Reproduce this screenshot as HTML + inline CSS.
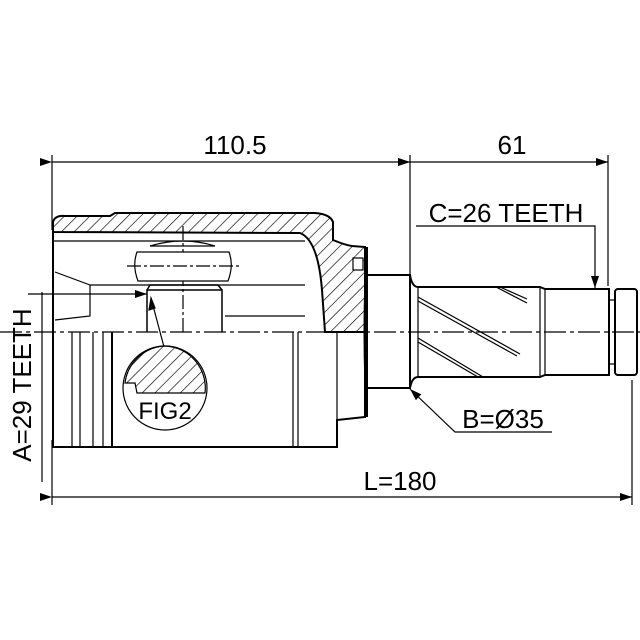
<!DOCTYPE html>
<html><head><style>body{margin:0;background:#fff}svg{display:block}</style></head><body>
<svg width="640" height="640" viewBox="0 0 640 640" xmlns="http://www.w3.org/2000/svg" font-family="Liberation Sans, sans-serif">
<defs>
<pattern id="h" width="9" height="9" patternUnits="userSpaceOnUse" patternTransform="rotate(45)">
<line x1="0" y1="0" x2="0" y2="9" stroke="#000" stroke-width="1.3"/></pattern>
<marker id="a" markerWidth="12" markerHeight="8" refX="12" refY="4" orient="auto" markerUnits="userSpaceOnUse"><path d="M0,0L12,4L0,8z" fill="#000"/></marker>
</defs>
<g stroke="#000" fill="none" stroke-width="1.2">
<line x1="52" y1="155" x2="52" y2="230"/>
<line x1="410" y1="155" x2="410" y2="275"/>
<line x1="608" y1="155" x2="608" y2="286"/>
<line x1="52" y1="162" x2="410" y2="162" marker-start="url(#a)" marker-end="url(#a)"/>
<line x1="410" y1="162" x2="608" y2="162" marker-start="url(#a)" marker-end="url(#a)"/>
<line x1="52" y1="440" x2="52" y2="505"/>
<line x1="632" y1="380" x2="632" y2="505"/>
<line x1="52" y1="497" x2="632" y2="497" marker-start="url(#a)" marker-end="url(#a)"/>
<line x1="42" y1="292" x2="42" y2="482"/>
<line x1="28" y1="294" x2="147" y2="294" marker-end="url(#a)"/>
<path d="M53,232 L53,222 Q55,215 65,216 L110,216 L115,213 L315,213 Q330,214 333,222 L333,240 Q345,245 352,246 L365,247 L365,332 L325,332 L322,290 Q318,240 300,233 Z" fill="url(#h)" stroke-width="2"/>
<path d="M53,232 L53,447 L337,447 L337,420 L365,417 L365,332" stroke-width="2"/>
<rect x="353" y="258" width="10" height="12" fill="#fff"/>
<line x1="53" y1="241" x2="305" y2="241"/>
<line x1="90" y1="285" x2="305" y2="285"/>
<line x1="225" y1="316" x2="305" y2="316"/>
<path d="M55,272 L90,285 L90,316 L55,320"/>
<line x1="183" y1="226" x2="183" y2="332" stroke-dasharray="14,3,3,3"/>
<path d="M137,252 Q132,265 138,281 L228,281 Q234,265 229,252 Z" fill="#fff"/>
<path d="M150,246 Q183,236 215,246 Z"/>
<line x1="127" y1="266" x2="240" y2="266" stroke-dasharray="14,3,3,3"/>
<path d="M147,332 L147,290 L222,290 L222,332" stroke-width="1.5"/>
<path d="M147,290 L150,285 L218,285 L222,290" stroke-width="1.5"/>
<line x1="72" y1="332" x2="72" y2="447"/><line x1="80" y1="332" x2="80" y2="447"/>
<line x1="93" y1="332" x2="93" y2="447"/><line x1="103" y1="332" x2="103" y2="447"/>
<line x1="112" y1="332" x2="112" y2="447" stroke-width="2"/>
<line x1="293" y1="332" x2="293" y2="447"/><line x1="298" y1="332" x2="298" y2="447"/>
<line x1="337" y1="332" x2="337" y2="420"/>
<line x1="151" y1="298" x2="164" y2="347"/>
<path d="M151,298 l-2,12 l6,-2z" fill="#000"/>
<circle cx="165" cy="388" r="42" fill="#fff"/>
<path d="M125,383 L135,383 L137,393 L205,393 A42,42 0 0 0 165,346 A42,42 0 0 0 125,383 Z" fill="url(#h)"/>
<path d="M367,247 Q362,332 367,417 Z" stroke-width="2"/>
<rect x="367" y="275" width="43" height="113" stroke-width="2" fill="#fff"/>
<path d="M410,275 Q412,287 418,287 L540,287 L545,289 L609,289 L609,375 L545,375 L540,377 L418,377 Q412,377 410,388" stroke-width="2"/>
<line x1="418" y1="287" x2="418" y2="377"/>
<line x1="540" y1="287" x2="540" y2="377"/><line x1="545" y1="289" x2="545" y2="375"/>
<line x1="418" y1="297" x2="520" y2="354"/><line x1="418" y1="301" x2="517" y2="356"/>
<line x1="496" y1="287" x2="527" y2="303"/><line x1="500" y1="287" x2="527" y2="299"/>
<line x1="418" y1="338" x2="483" y2="377"/><line x1="418" y1="342" x2="478" y2="377"/>
<rect x="615" y="289" width="22" height="86" rx="3" stroke-width="2"/>
<line x1="609" y1="300" x2="615" y2="300"/><line x1="609" y1="364" x2="615" y2="364"/>
<line x1="0" y1="332" x2="640" y2="332" stroke-dasharray="22,4,4,4"/>
<polyline points="416,226 595,226 595,288" marker-end="url(#a)"/>
<polyline points="552,432 455,432 410,389" marker-end="url(#a)"/>
</g>
<g font-size="26" fill="#000">
<text x="235" y="154" text-anchor="middle">110.5</text>
<text x="512" y="154" text-anchor="middle">61</text>
<text x="506" y="222" text-anchor="middle">C=26 TEETH</text>
<text x="503" y="428" text-anchor="middle">B=Ø35</text>
<text x="400" y="490" text-anchor="middle">L=180</text>
<text x="165" y="419" text-anchor="middle" font-size="24">FIG2</text>
<text transform="translate(31,385) rotate(-90)" text-anchor="middle">A=29 TEETH</text>
</g>
</svg>
</body></html>
